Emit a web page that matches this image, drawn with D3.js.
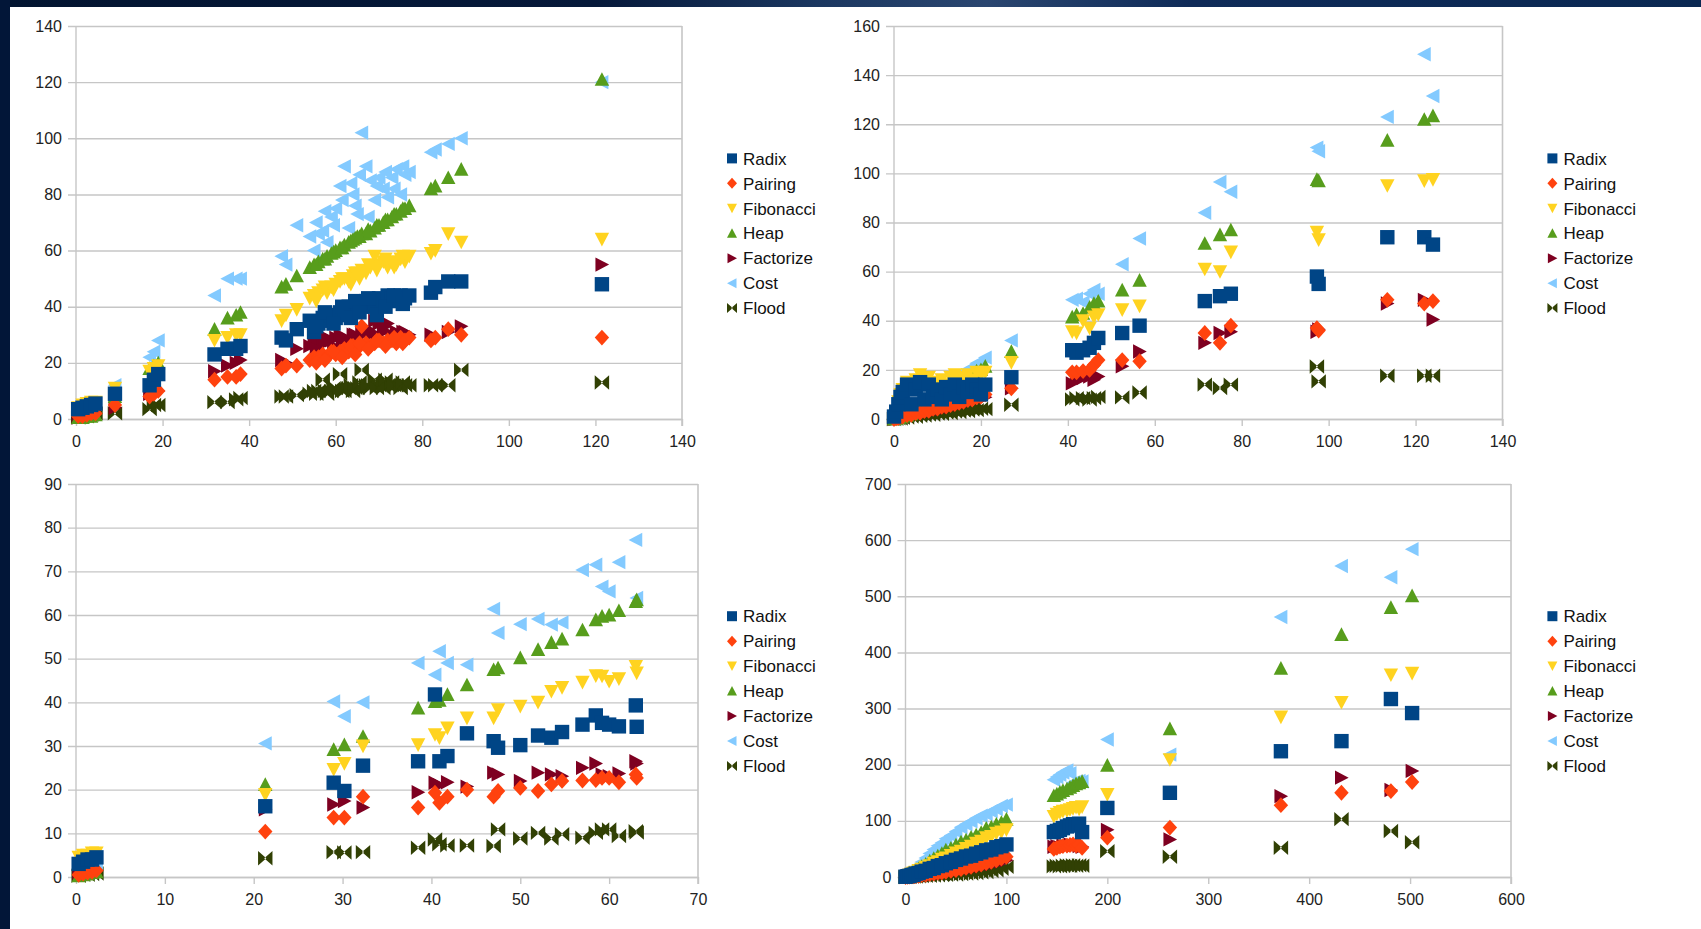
<!DOCTYPE html>
<html><head><meta charset="utf-8">
<script src="https://cdn.jsdelivr.net/npm/d3@7"></script>
<style>
body{margin:0;background:#fff;}
svg{display:block;}
text{font-family:"Liberation Sans",Arial,sans-serif;}
</style>
</head><body>
<svg id="chart" width="1701" height="929"></svg>
<script>
// ---------- series ----------
const seriesNames = ["Radix","Pairing","Fibonacci","Heap","Factorize","Cost","Flood"];
const seriesColors = ["#004586","#ff420e","#ffd320","#579d1c","#7e0021","#83caff","#314004"];
const seriesShapes = ["square","diamond","down","up","right","left","bowtie"];

// ---------- panel 1 (top-left) ----------
const p1X = [0.5,1.5,2.5,3.5,4.5,9,17,18,19,32,35,37,38,47.5,48.5,51,
 54,55,56,57,58,59,60,61,62,63,64,65,66,67,68,69,70,71,72,73,74,75,76,77,
 82,83,86,89,121.5,
 55.5,57.5,59.5,61.5,63.5,64.5,65.5,67.5,69.5,71.5,73.5,75.5];
const p1Radix = [3.5,4,4.5,5,5.5,9,12,14,16,23,25,25,26,29,28,32,
 35,31,34,36,35,37,36,38,37,40,39,41,40,42,41,40,43,42,44,43,42,44,43,44,
 45,47,49,49,48,
 33,38,34,40,36,42,38,43,37,40,44,41];
const p1Pairing = [1,1,1.5,2,2,5,8,9,10,14,15,15,16,18,19,19,
 21,22,22,23,22,24,23,24,25,24,26,25,33,27,26,27,28,27,28,28,27,29,28,29,
 28,29,32,30,29,
 20,21,24,22,26,23,27,25,28,26,29,27];
const p1Fibonacci = [4,5,5.5,6,6,11,17,18,19,28,29,30,30,35,37,39,
 43,44,45,46,45,47,48,49,50,49,51,52,53,52,54,58,55,56,54,56,55,57,56,58,
 59,60,66,63,64,
 42,47,46,50,48,52,50,55,53,57,54,58];
const p1Heap = [0.5,0.5,1,1,1.5,8,18,19,20,32,36,37,38,47,48,51,
 54,55,56,57,58,59,60,61,62,63,64,65,66,66,67,68,69,70,71,72,73,74,75,76,
 82,83,86,89,121,
 55,57,59.5,61,63.5,64.5,65,67.5,69,71,73,75];
const p1Factorize = [0.5,1,1,1.5,2,4,9,9.5,10,17,19,20,21,21,20,25,
 26,27,28,27,29,28,29,30,29,28,30,29,31,31,30,35,34,31,34,30,31,30,31,30,
 30,29,31,33,55,
 25,27,26,28,27,30,28,32,30,33,29,31];
const p1Cost = [3,4,4.5,5,5.5,12,22,24,28,44,50,50,50,58,55,69,
 65,60,66,67,63,72,75,83,90,68,80,73,102,90,85,78,86,82,79,86,89,80,87,88,
 95,96,98,100,120,
 70,74,69,78,84,76,87,72,83,88,82,90];
const p1Flood = [0.5,1,1,1.5,2,2,3.5,5,5,6,6,7,7.5,8,8,8.5,
 9,10,10,14,9,10,11,16,10,11,10,11,17.5,12,11,14,12,11,12,13,12,11,12,12,
 12,12,12,17.5,13,
 9,10,11,10,12,11,13,12,11,14,12,13];
const p1XTicks = [0,20,40,60,80,100,120,140];
const p1YTicks = [0,20,40,60,80,100,120,140];

// ---------- panel 2 (top-right) ----------
const p2X = [0,0.5,1,1.5,2,3,4,5,6,7,8,9,10,11,12,13,14,15,16,17,18,19,20,21,
 27,41,42,43.5,45,46,47,52.5,56.5,71.5,75,77.5,97.3,97.7,113.5,122,124];
const p2Radix = [1,3,6,9,11,14,6,12,15,8,14,9,12,8,13,10,14,9,13,11,14,12,10,14,
 17,28,27,28,29,31,33,35,38,48,50,51,58,55,74,74,71];
const p2Pairing = [0,0.3,0.4,0.9,1,1.6,1.7,2.4,2.5,3.2,3.3,4.1,4.2,5,5.1,5.7,6.1,6.6,7,7.7,7.9,8.8,9.1,10,
 12.5,19,19,19.5,20,22,24,24,23.5,35,31,38,37,36,48.5,47,48];
const p2Fibonacci = [1,3,7,10,12,15,13,16,18,15,17,14,15,16,14,17,18,16,17,18,16,19,18,19,
 23,35.5,35,40,37,41.5,42.5,44.5,46,61,60,68,76,73,95,97,97.5];
const p2Heap = [0,0.3,0.6,0.8,1.2,1.5,2.1,3,3.8,5.2,5.9,6.6,7.4,8.7,9.8,11.2,12.9,14.1,15.8,17.2,18,19.6,20.1,21.5,
 27.5,41.5,42.5,43,45.5,47,48,52.5,56.5,71.5,75,77,97.5,97,113.5,122,123.5];
const p2Factorize = [0,0.1,0.4,0.5,0.8,0.9,1.5,1.8,2.3,2.6,3.1,3.4,3.9,4.2,4.7,5,5.6,5.9,6.6,6.9,7.5,8,8.6,8.9,
 12.5,14.5,16,16.7,17.3,16,17.3,21.5,27.5,31,35,35.5,35.5,36.5,47,48.5,40.5];
const p2Cost = [0,0.5,0.9,1.3,1.5,2.2,2.8,4.1,5,6.2,6.9,8.1,9.2,10.4,12.1,13.3,15.2,18,18.8,20.3,21.1,22.7,23.4,25,
 32,48.5,49,47.5,51,52.5,51,63,73.5,84,96.5,92.5,110.5,109,123,148.5,131.5];
const p2Flood = [0,0.1,0.3,0.2,0.5,0.6,1,0.9,1.3,1.4,1.8,1.7,2.2,2.1,2.6,2.4,3,2.8,3.4,3.2,3.8,3.6,4.2,4,
 5.8,8,8.5,8.5,7.9,8.5,9,8.8,10.8,14,12.6,14,21.4,15.3,17.6,17.6,17.6];
const p2XTicks = [0,20,40,60,80,100,120,140];
const p2YTicks = [0,20,40,60,80,100,120,140,160];

// ---------- panel 3 (bottom-left) ----------
const p3X = [0.3,0.8,1.3,1.8,2.3,21.3,29,30.2,32.3,38.5,40.4,40.9,41.8,44,47,47.5,50,52,53.5,54.7,57,58.5,59.2,60,61.1,63,63.1];
const p3Radix = [3,3.5,4,4,4.5,16.2,21.6,19.7,25.5,26.5,41.8,26.5,27.7,32.9,31.1,29.6,30.2,32.4,31.9,33.2,34.9,37,35.3,34.9,34.5,39.3,34.4];
const p3Pairing = [0.5,0.8,1,1.2,1.5,10.4,13.6,13.6,18.4,15.9,19.3,17,18.4,20,18.4,19.7,20.4,19.7,21.2,22,22.1,22.2,22.7,22.7,21.7,23.5,22.7];
const p3Fibonacci = [4.5,5,5,5.5,5.5,18.9,24.6,26,30,30.3,32.6,31.9,34.1,36.4,36.4,38.3,39.1,40,42.5,43.4,44.6,46.1,46,44.8,45.4,48.2,46.7];
const p3Heap = [0.3,0.5,0.7,1,1.2,21.2,29.2,30.3,32.2,38.7,40.2,40.5,41.8,44,47.5,47.9,50.2,52.1,53.7,54.5,56.6,58.9,59.7,60,61,63.1,63.5];
const p3Factorize = [1,0.8,1.2,1,1.5,15.5,16.6,17.4,15.9,19.4,21.6,21,21.7,20.7,23.9,23.5,22,23.9,23.5,23.1,25,26,23.5,23.1,23.7,26.5,26];
const p3Cost = [2,2.5,3,2.5,3,30.6,40.2,36.8,40,49,46.3,51.7,49,48.6,61.4,55.9,57.9,59.1,57.8,58.3,70.3,71.5,66.5,65.4,72.1,77.2,63.9];
const p3Flood = [0.3,0.5,0.5,0.7,0.8,4.3,5.7,5.6,5.7,6.7,8.6,7.5,7.2,7.2,7.1,10.9,8.8,10.1,8.8,9.8,9,10.1,10.9,10.9,9.4,10.5,10.2];
const p3XTicks = [0,10,20,30,40,50,60,70];
const p3YTicks = [0,10,20,30,40,50,60,70,80,90];

// ---------- panel 4 (bottom-right) ----------
const p4X = [0,2,4,6,8,10,13,16,20,24,28,32,36,40,45,50,55,60,65,70,75,80,85,90,95,100,
 147,150,153,156,160,163,166,169,172,175,
 200,262,372,432,481,502];
const p4Radix = [0.5,1.5,2,3.5,4,6,7,9.5,11,14.5,16,19.5,21,24.5,27,30.5,33,36.5,38,41.5,44,47.5,49,53,55,58,
 80,82,84,87,90,92,94,92,95,80,
 123,150,224,242,317,292];
const p4Pairing = [0,0.3,0.6,1.1,1.3,1.8,2.3,3.2,4,5.2,6,7.3,8,9.4,11,12.2,14,16.3,18,20.5,22,24.6,27,29.5,33,36,
 50,52,54,55,56,57,58,56,57,52,
 70,88,128,150,153,169];
const p4Fibonacci = [0.5,2,3.5,5.5,7,8.5,11.5,14,17.5,20,24.5,27,31.5,34,38.5,43,46,51,55,60,63.5,70,72,78,80,84,
 108,112,115,117,118,120,122,124,121,125,
 147,209,285,311,360,363];
const p4Heap = [0.5,2,5,7,9,11.5,15,19,23,28.5,33,37.5,42,48,51.5,57,62.5,66,71,75,79.5,87,89,94,97,103,
 145,148,151,154,157,160,163,166,168,170,
 199,264,372,432,480,501];
const p4Factorize = [0,0.2,0.5,0.8,1.1,1.4,2,2.5,3.4,4.2,5,6.1,7,8.3,9.5,10.8,12.5,14,15,17.2,19,21.3,23,25.6,27.5,30,
 54,55,53,56,55,58,56,57,55,54,
 84,67,144,177,155,189];
const p4Cost = [1,3,6,9.5,12,16,21,26.5,34,42,49,55.5,61,68,74,81,88.5,94,99,104.5,109,112,117,121,126.5,129,
 173,178,182,186,190,185,168,170,171,170,
 245,218,463,554,534,584];
const p4Flood = [0,0.2,0.5,0.6,0.9,1,1.4,1.6,2.1,2.3,2.7,3,3.5,3.7,4.2,4.5,5.2,6,6.3,7,8.2,9,10.8,12,14.6,18,
 19,20,19,20,21,20,21,20,21,20,
 46,36,52,103,82,62];
const p4XTicks = [0,100,200,300,400,500,600];
const p4YTicks = [0,100,200,300,400,500,600,700];

// ---------- layout ----------
const panels = [
  {x:p1X, ys:[p1Radix,p1Pairing,p1Fibonacci,p1Heap,p1Factorize,p1Cost,p1Flood], xt:p1XTicks, yt:p1YTicks,
   left:76, right:682, top:26, bottom:419, legX:732, legY:158.4},
  {x:p2X, ys:[p2Radix,p2Pairing,p2Fibonacci,p2Heap,p2Factorize,p2Cost,p2Flood], xt:p2XTicks, yt:p2YTicks,
   left:894, right:1502.5, top:26, bottom:419, legX:1552.4, legY:158.4},
  {x:p3X, ys:[p3Radix,p3Pairing,p3Fibonacci,p3Heap,p3Factorize,p3Cost,p3Flood], xt:p3XTicks, yt:p3YTicks,
   left:76, right:698, top:484, bottom:877, legX:732, legY:616.2},
  {x:p4X, ys:[p4Radix,p4Pairing,p4Fibonacci,p4Heap,p4Factorize,p4Cost,p4Flood], xt:p4XTicks, yt:p4YTicks,
   left:905.5, right:1511, top:484, bottom:877, legX:1552.4, legY:616.2}
];

const shapePath = {
  square: r => `M${-r},${-r}H${r}V${r}H${-r}Z`,
  diamond: r => `M0,${-r*1.1}L${r},0L0,${r*1.1}L${-r},0Z`,
  down: r => `M${-r},${-r*0.9}H${r}L0,${r}Z`,
  up: r => `M0,${-r}L${r},${r*0.9}H${-r}Z`,
  right: r => `M${-r*0.9},${-r}L${r},0L${-r*0.9},${r}Z`,
  left: r => `M${r*0.9},${-r}L${-r},0L${r*0.9},${r}Z`,
  bowtie: r => `M${-r},${-r}L${r*0.15},0L${-r},${r}Z M${r},${-r}L${-r*0.15},0L${r},${r}Z`
};

const svg = d3.select("#chart");
svg.append("rect").attr("width",1701).attr("height",929).attr("fill","#ffffff");

// dark frame
const defs = svg.append("defs");
const grad = defs.append("linearGradient").attr("id","topband").attr("x1","0").attr("x2","1").attr("y1","0").attr("y2","0");
[["0%","#021430"],["35%","#06193a"],["48%","#1b3760"],["58%","#2a4670"],["70%","#0f2b58"],["100%","#0a2852"]]
  .forEach(([o,c]) => grad.append("stop").attr("offset",o).attr("stop-color",c));
svg.append("rect").attr("x",0).attr("y",0).attr("width",1701).attr("height",7).attr("fill","url(#topband)");
svg.append("rect").attr("x",0).attr("y",0).attr("width",10).attr("height",929).attr("fill","#021638");

const gridColor = "#c6c6c6";
const markR = 7.2;

panels.forEach(p => {
  const xMax = p.xt[p.xt.length-1], yMax = p.yt[p.yt.length-1];
  const x = d3.scaleLinear().domain([0,xMax]).range([p.left,p.right]);
  const y = d3.scaleLinear().domain([0,yMax]).range([p.bottom,p.top]);
  const g = svg.append("g");

  // gridlines + y labels
  const gy = g.append("g").attr("transform",`translate(${p.left-8},0)`)
    .call(d3.axisLeft(y).tickValues(p.yt).tickSize(-(p.right-p.left+8)).tickPadding(6).tickFormat(d3.format("d")));
  gy.select(".domain").remove();
  gy.selectAll("line").attr("stroke",gridColor).attr("stroke-width",1.4);
  gy.selectAll("text").attr("fill","#222").style("font-size","16px");

  // x axis
  const gx = g.append("g").attr("transform",`translate(0,${p.bottom})`)
    .call(d3.axisBottom(x).tickValues(p.xt).tickSize(7).tickSizeOuter(0).tickPadding(10).tickFormat(d3.format("d")));
  gx.select(".domain").attr("stroke",gridColor).attr("stroke-width",1.4);
  gx.selectAll("line").attr("stroke",gridColor).attr("stroke-width",1.4);
  gx.selectAll("text").attr("fill","#222").style("font-size","16px");

  // left axis & right border
  g.append("line").attr("x1",x(0)).attr("x2",x(0)).attr("y1",p.top).attr("y2",p.bottom)
    .attr("stroke",gridColor).attr("stroke-width",1.4);
  g.append("line").attr("x1",x(xMax)).attr("x2",x(xMax)).attr("y1",p.top).attr("y2",p.bottom+7)
    .attr("stroke",gridColor).attr("stroke-width",1.6);

  // points: drawn Flood first, Radix last (on top)
  for (let s = seriesNames.length-1; s >= 0; s--) {
    const pts = p.x.map((xv,i) => [xv, p.ys[s][i]]);
    g.append("g").selectAll("path").data(pts).join("path")
      .attr("transform", d => `translate(${x(d[0])},${y(d[1])})`)
      .attr("d", shapePath[seriesShapes[s]](markR))
      .attr("fill", seriesColors[s]);
  }

  // legend
  const lg = g.append("g");
  seriesNames.forEach((name,i) => {
    const cy = p.legY + i*24.95;
    lg.append("path").attr("transform",`translate(${p.legX},${cy})`)
      .attr("d", shapePath[seriesShapes[i]](5)).attr("fill", seriesColors[i]);
    lg.append("text").attr("x", p.legX+11).attr("y", cy+6.2)
      .style("font-size","17px").attr("fill","#111").text(name);
  });
});
</script>
</body></html>
